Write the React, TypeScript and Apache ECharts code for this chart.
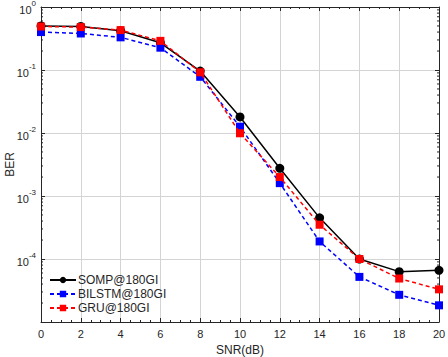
import React, { useEffect, useRef } from "react";
import * as echarts from "echarts";

const snr = [0, 2, 4, 6, 8, 10, 12, 14, 16, 18, 20];
const somp = [0.5, 0.49, 0.42, 0.27, 0.096, 0.018, 0.00275, 4.5e-4, 1.0e-4, 6.3e-5, 6.6e-5];
const bilstm = [0.4, 0.38, 0.33, 0.226, 0.078, 0.0126, 0.0016, 1.9e-4, 5.2e-5, 2.7e-5, 1.84e-5];
const gru = [0.49, 0.48, 0.43, 0.29, 0.092, 0.0099, 0.002, 3.5e-4, 1.0e-4, 4.9e-5, 3.3e-5];
const seriesNames = ["SOMP@180GI", "BILSTM@180GI", "GRU@180GI"];
const decadeExponents = [-5, -4, -3, -2, -1];
const minorMultipliers = [2, 3, 4, 5, 6, 7, 8, 9];

const FONT = "Liberation Sans, Arial, sans-serif";
const TXT = "#262626";

export default function App() {
  const ref = useRef<HTMLDivElement>(null);
  useEffect(() => {
    if (!ref.current) return;
    const chart = echarts.init(ref.current, undefined, { renderer: "svg" });
    const minorVals: number[][] = [];
    decadeExponents.forEach((e) =>
      minorMultipliers.forEach((m) => minorVals.push([0, m * Math.pow(10, e)]))
    );
    const xCommon = {
      type: "value" as const,
      min: 0,
      max: 20,
      interval: 2,
      axisLine: { show: true, onZero: false, lineStyle: { color: TXT, width: 1 } },
      axisTick: { show: true, inside: true, length: 4, lineStyle: { color: TXT } },
      minorTick: { show: true, splitNumber: 4, length: 2, lineStyle: { color: TXT } },
    };
    const yCommon = {
      type: "log" as const,
      logBase: 10,
      min: 1e-5,
      max: 1,
      axisLine: { show: true, onZero: false, lineStyle: { color: TXT, width: 1 } },
      axisTick: { show: true, inside: true, length: 4, lineStyle: { color: TXT } },
    };
    chart.setOption({
      animation: false,
      backgroundColor: "#ffffff",
      grid: { left: 41, right: 9, top: 7, bottom: 35, containLabel: false, outerBoundsMode: "none" },
      xAxis: [
        {
          ...xCommon,
          position: "bottom",
          name: "SNR(dB)",
          nameLocation: "middle",
          nameGap: 22,
          nameMoveOverlap: false,
          nameTextStyle: { color: TXT, fontSize: 12, fontFamily: FONT },
          axisLabel: { color: TXT, fontSize: 11, fontFamily: FONT, margin: 6 },
          splitLine: { show: true, lineStyle: { color: "#d4d4d4", width: 1 } },
        },
        {
          ...xCommon,
          position: "top",
          axisLabel: { show: false },
          splitLine: { show: false },
        },
      ],
      yAxis: [
        {
          ...yCommon,
          position: "left",
          name: "BER",
          nameLocation: "middle",
          nameGap: 25,
          nameMoveOverlap: false,
          nameRotate: 90,
          nameTextStyle: { color: TXT, fontSize: 12, fontFamily: FONT },
          splitLine: { show: true, lineStyle: { color: "#d4d4d4", width: 1 } },
          axisLabel: {
            margin: 5,
            formatter: (v: number) => {
              const e = Math.round(Math.log10(v));
              if (e === -5) return "";
              return `{b|10}{s|${e}}`;
            },
            rich: {
              b: { color: TXT, fontSize: 11, fontFamily: FONT, lineHeight: 16, verticalAlign: "bottom" },
              s: { color: TXT, fontSize: 8, fontFamily: FONT, lineHeight: 16, verticalAlign: "top" },
            },
          },
        },
        {
          ...yCommon,
          position: "right",
          axisLabel: { show: false },
          splitLine: { show: false },
        },
      ],
      legend: {
        data: seriesNames,
        orient: "vertical",
        left: 49,
        top: 273,
        padding: 0,
        itemWidth: 26,
        itemHeight: 8,
        itemGap: 0,
        textStyle: { color: TXT, fontSize: 12, fontFamily: FONT, padding: [0, 0, 0, -3], lineHeight: 14 },
        backgroundColor: "transparent",
      },
      series: [
        {
          name: seriesNames[0],
          type: "line",
          data: snr.map((x, i) => [x, somp[i]]),
          symbol: "circle",
          symbolSize: 9,
          lineStyle: { color: "#000000", width: 1.5 },
          itemStyle: { color: "#000000" },
          z: 3,
        },
        {
          name: seriesNames[1],
          type: "line",
          data: snr.map((x, i) => [x, bilstm[i]]),
          symbol: "rect",
          symbolSize: 8,
          lineStyle: { color: "#0000ff", width: 1.5, type: [4, 3] },
          itemStyle: { color: "#0000ff" },
          z: 4,
        },
        {
          name: seriesNames[2],
          type: "line",
          data: snr.map((x, i) => [x, gru[i]]),
          symbol: "rect",
          symbolSize: 8,
          lineStyle: { color: "#ff0000", width: 1.5, type: [4, 3] },
          itemStyle: { color: "#ff0000" },
          z: 5,
        },
        {
          type: "custom",
          silent: true,
          clip: false,
          data: minorVals,
          renderItem: (params: any, api: any) => {
            const v = api.value(1);
            const l = api.coord([0, v]);
            const r = api.coord([20, v]);
            return {
              type: "group",
              children: [
                { type: "line", shape: { x1: l[0], y1: l[1], x2: l[0] + 2, y2: l[1] }, style: { stroke: TXT, lineWidth: 1 } },
                { type: "line", shape: { x1: r[0], y1: r[1], x2: r[0] - 2, y2: r[1] }, style: { stroke: TXT, lineWidth: 1 } },
              ],
            };
          },
          z: 2,
        },
      ],
    });
    return () => chart.dispose();
  }, []);
  return <div ref={ref} style={{ width: 448, height: 357, position: "absolute", left: 0, top: 0 }} />;
}
